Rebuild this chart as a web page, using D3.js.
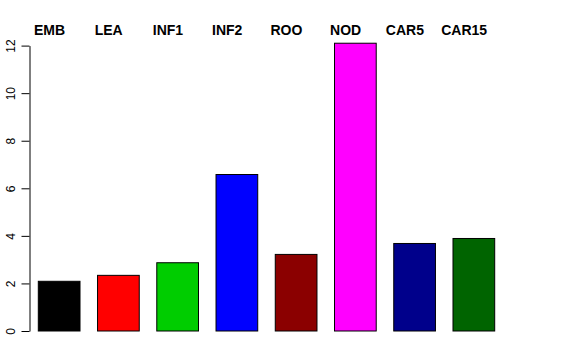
<!DOCTYPE html>
<html>
<head>
<meta charset="utf-8">
<script src="https://cdn.jsdelivr.net/npm/d3@7"></script>
<style>
  html, body { margin: 0; padding: 0; background: #fff; }
  svg { display: block; }
</style>
</head>
<body>
<svg id="chart" width="576" height="360"></svg>
<script>
const categories = ["EMB", "LEA", "INF1", "INF2", "ROO", "NOD", "CAR5", "CAR15"];
const values = [2.09, 2.34, 2.87, 6.58, 3.22, 12.1, 3.68, 3.89];
const colors = ["#000000", "#FF0000", "#00CD00", "#0000FF", "#8B0000", "#FF00FF", "#00008B", "#006400"];
const yTicks = [0, 2, 4, 6, 8, 10, 12];

const svg = d3.select("#chart");

const x = d3.scaleBand()
  .domain(categories)
  .range([38.3, 494.7])
  .paddingInner(0.296)
  .paddingOuter(0);

const y = d3.scaleLinear()
  .domain([0, 12])
  .range([331, 45.6]);

// bars
svg.append("g")
  .selectAll("rect")
  .data(categories)
  .join("rect")
  .attr("x", d => x(d))
  .attr("y", (d, i) => y(values[i]))
  .attr("width", x.bandwidth())
  .attr("height", (d, i) => y(0) - y(values[i]))
  .attr("fill", (d, i) => colors[i])
  .attr("stroke", "#000")
  .attr("stroke-width", 1);

// y axis
const axis = svg.append("g")
  .attr("transform", "translate(29.5,0)")
  .call(d3.axisLeft(y).tickValues(yTicks).tickSize(8).tickSizeOuter(0).tickFormat(d3.format("d")));
axis.select(".domain").attr("stroke", "#000");
axis.selectAll(".tick line").attr("stroke", "#000");
axis.selectAll(".tick text")
  .attr("transform", "rotate(-90)")
  .attr("x", 0)
  .attr("y", -14.5)
  .attr("dy", 0)
  .attr("text-anchor", "middle")
  .attr("fill", "#000")
  .style("font-family", "'Liberation Sans', Arial, Helvetica, sans-serif")
  .style("font-size", "12px");

// top labels
svg.append("g")
  .selectAll("text")
  .data(categories)
  .join("text")
  .attr("x", d => x(d) + x.bandwidth() / 2 - 9.7)
  .attr("y", 34.5)
  .attr("text-anchor", "middle")
  .style("font-family", "'Liberation Sans', Arial, Helvetica, sans-serif")
  .style("font-weight", "bold")
  .style("font-size", "14px")
  .attr("fill", "#000")
  .text(d => d);
</script>
</body>
</html>
